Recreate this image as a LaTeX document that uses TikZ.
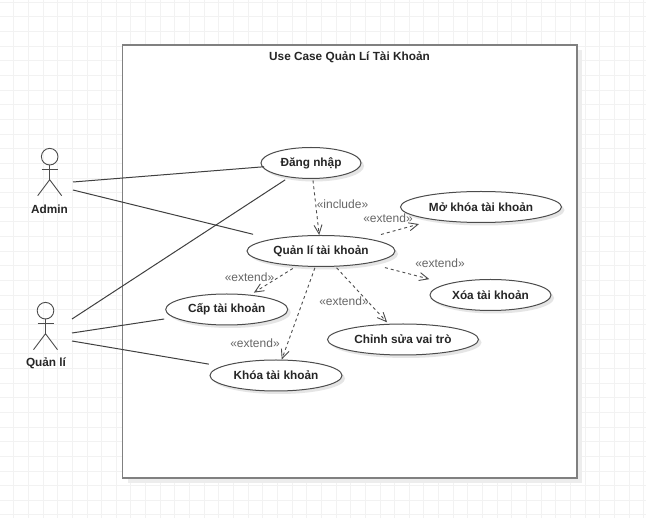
\documentclass[tikz,border=0pt]{standalone}
\usepackage{fontspec}
\setmainfont{Liberation Sans}
\usetikzlibrary{arrows.meta,shadows,shapes.geometric}

\begin{document}
\begin{tikzpicture}[x=1pt,y=-1pt]
\tikzset{usecase/.style={draw=black!70, fill=white, ellipse, inner sep=0pt, outer sep=0.5pt, minimum height=31pt, line width=1pt, font=\fontsize{11.8}{14}\selectfont\bfseries, text=black!85, drop shadow={shadow xshift=3pt, shadow yshift=-3pt, fill=black!10, opacity=1}}}
\tikzset{nhan/.style={font=\fontsize{12}{14}\selectfont, text=black!60, inner sep=0pt}}
\tikzset{tennguoi/.style={font=\fontsize{11.8}{14}\selectfont\bfseries, text=black!85, inner sep=0pt}}
\tikzset{lienket/.style={draw=black!75, line width=1pt}}
\tikzset{morong/.style={draw=black!70, line width=0.9pt, dash pattern=on 3pt off 3pt, -{Straight Barb[length=9pt,width=8pt]}}}
\tikzset{nguoi/.pic={
\draw[black!70, line width=0.9pt] (0,0) circle (8.3);
\draw[black!70, line width=0.9pt] (0,8.3) -- (0,23);
\draw[black!70, line width=0.9pt] (-8,13) -- (8,13);
\draw[black!70, line width=0.9pt] (-12,39) -- (0,23) -- (12,39);
}}
\useasboundingbox (0,0) rectangle (646,518);
\fill[white] (0,0) rectangle (646,518);
% grid
\foreach \gx in {0,...,44} \draw[black!5, line width=1pt] (13.75+14.65*\gx,0) -- (13.75+14.65*\gx,518);
\foreach \gy in {0,...,35} \draw[black!5, line width=1pt] (0,2.25+14.65*\gy) -- (646,2.25+14.65*\gy);
% system box
\fill[black!7] (127.5,50) rectangle (582,483);
\draw[black!50, fill=white, line width=1.6pt] (122.5,45) rectangle (577,478);
\node[font=\fontsize{11.8}{14}\selectfont\bfseries, text=black!85, inner sep=0pt] (HeThong) at (349.5,57) {Use Case Quản Lí Tài Khoản};
% actors
\pic at (49.7,156.7) {nguoi};
\pic at (45.5,310.7) {nguoi};
\node[tennguoi] (Admin) at (49.5,209) {Admin};
\node[tennguoi] (QuanLi) at (46,363) {Quản lí};
\coordinate (A1) at (73,182);
\coordinate (A2) at (73,190);
\coordinate (Q1) at (72,319);
\coordinate (Q2) at (72,333);
\coordinate (Q3) at (72,341);
% use cases
\node[usecase, minimum width=100pt] (DangNhap) at (311,163) {\raisebox{-0.7pt}{Đăng nhập}};
\node[usecase, minimum width=148pt] (QuanLiTK) at (321,251) {\raisebox{-0.7pt}{Quản lí tài khoản}};
\node[usecase, minimum width=161pt] (MoKhoa) at (481,207) {\raisebox{-0.7pt}{Mở khóa tài khoản}};
\node[usecase, minimum width=121pt] (Xoa) at (490.5,295) {\raisebox{-0.7pt}{Xóa tài khoản}};
\node[usecase, minimum width=151pt] (ChinhSua) at (403,339.5) {\raisebox{-0.7pt}{Chỉnh sửa vai trò}};
\node[usecase, minimum width=132pt] (Khoa) at (276,375.5) {\raisebox{-0.7pt}{Khóa tài khoản}};
\node[usecase, minimum width=122pt] (Cap) at (226.7,309.5) {\raisebox{-0.7pt}{Cấp tài khoản}};
% associations
\draw[lienket, shorten >=-2pt] (A1) -- (DangNhap);
\draw[lienket, shorten >=19.5pt] (A2) -- (QuanLiTK);
\draw[lienket, shorten >=4.5pt] (Q1) -- (DangNhap);
\draw[lienket, shorten >=9.5pt] (Q2) -- (Cap);
\draw[lienket, shorten >=13pt] (Q3) -- (Khoa);
% include and extend
\draw[morong, shorten <=1.5pt] (DangNhap) -- (QuanLiTK);
\draw[morong, shorten <=14.7pt, shorten >=15.3pt] (QuanLiTK) -- (MoKhoa);
\draw[morong, shorten <=17pt, shorten >=18.4pt] (QuanLiTK) -- (Xoa);
\draw[morong, shorten <=1.5pt, shorten >=2pt] (QuanLiTK) -- (ChinhSua);
\draw[morong, shorten <=1pt] (QuanLiTK) -- (Khoa);
\draw[morong, shorten <=4.5pt, shorten >=4pt] (QuanLiTK) -- (Cap);
\node[nhan] (L1) at (342.5,204.5) {«include»};
\node[nhan] (L2) at (388,218.5) {«extend»};
\node[nhan] (L3) at (440,263.5) {«extend»};
\node[nhan] (L4) at (344,301.5) {«extend»};
\node[nhan] (L5) at (249.5,277.5) {«extend»};
\node[nhan] (L6) at (255,343.2) {«extend»};
\end{tikzpicture}
\end{document}
